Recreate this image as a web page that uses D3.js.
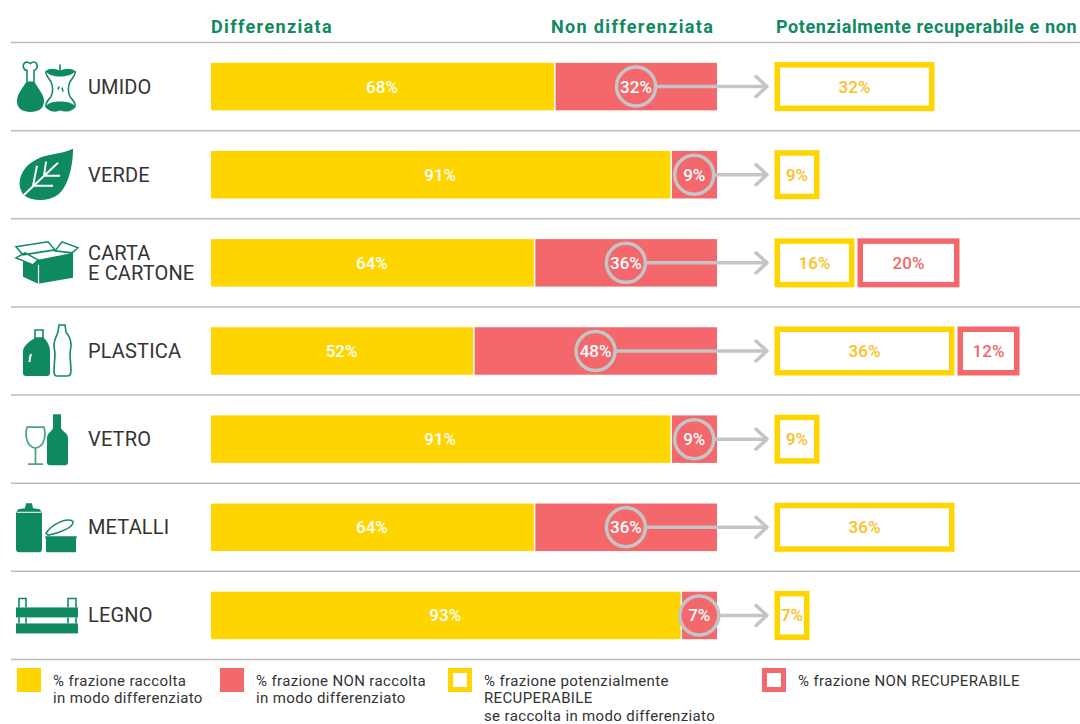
<!DOCTYPE html>
<html>
<head>
<meta charset="utf-8">
<script src="https://cdn.jsdelivr.net/npm/d3@7"></script>
<style>
    html, body { margin: 0; padding: 0; background: #fff; overflow: hidden; }
    svg { display: block; }
    text { font-family: Roboto, sans-serif; }
</style>
</head>
<body>
<div id="chart"></div>
<script>
// Chart values
const categories = ['UMIDO', 'VERDE', 'CARTA|E CARTONE', 'PLASTICA', 'VETRO', 'METALLI', 'LEGNO'];
const differenziata = [68, 91, 64, 52, 91, 64, 93];
const nonDifferenziata = [32, 9, 36, 48, 9, 36, 7];
const recuperabile = [32, 9, 16, 36, 9, 36, 7];
const nonRecuperabile = [0, 0, 20, 12, 0, 0, 0];
const headers = ['Differenziata', 'Non differenziata', 'Potenzialmente recuperabile e non'];
const legendLabels = [
    ['% frazione raccolta', 'in modo differenziato'],
    ['% frazione NON raccolta', 'in modo differenziato'],
    ['% frazione potenzialmente', 'RECUPERABILE', 'se raccolta in modo differenziato'],
    ['% frazione NON RECUPERABILE']
];

const width = 1080;
const height = 724;
const yellow = '#ffd500';
const red = '#f4686c';
const green = '#0f8a5f';
const grey = '#c3c5c7';

const svg = d3.select('#chart').append('svg')
    .attr('width', width)
    .attr('height', height);

// Scales
const xBar = d3.scaleLinear().domain([0, 100]).range([211, 717]);
const xBox = d3.scaleLinear().domain([0, 100]).range([774.5, 1274.5]);
const yRow = d3.scaleBand().domain(categories).range([42.5, 659.5]);
const rowCenter = c => yRow(c) + yRow.bandwidth() / 2;

// Separators
svg.append('g').selectAll('line')
    .data(d3.range(categories.length + 1))
    .enter()
    .append('line')
    .attr('x1', 11)
    .attr('x2', width)
    .attr('y1', i => 42.5 + i * yRow.step())
    .attr('y2', i => 42.5 + i * yRow.step())
    .attr('stroke', '#bcbcbc')
    .attr('stroke-width', 1.5);

// Column headers
svg.append('g').selectAll('text')
    .data(headers)
    .enter()
    .append('text')
    .attr('x', (d, i) => [211, 551, 776][i])
    .attr('y', 33)
    .attr('fill', green)
    .attr('font-size', 18)
    .attr('font-weight', 700)
    .attr('letter-spacing', (d, i) => [1.35, 1.35, 0.6][i])
    .text(d => d);

const rows = svg.append('g').selectAll('g')
    .data(categories)
    .enter()
    .append('g')
    .attr('transform', c => `translate(0,${rowCenter(c)})`);

// Category labels
rows.append('text')
    .attr('fill', '#333')
    .attr('font-size', 20)
    .attr('letter-spacing', 0.15)
    .selectAll('tspan')
    .data(c => c.split('|').map((t, i, all) => ({ t, dy: all.length > 1 ? (i === 0 ? -3 : 20.5) : 7 })))
    .enter()
    .append('tspan')
    .attr('x', 88)
    .attr('dy', d => d.dy)
    .text(d => d.t);

// Stacked bars
const barH = 47.5;
rows.append('rect')
    .attr('x', xBar(0))
    .attr('y', -barH / 2)
    .attr('width', (c, i) => xBar(differenziata[i]) - xBar(0) - 1)
    .attr('height', barH)
    .attr('fill', yellow);

rows.append('rect')
    .attr('x', (c, i) => xBar(differenziata[i]) + 0.5)
    .attr('y', -barH / 2)
    .attr('width', (c, i) => xBar(100) - xBar(differenziata[i]) - 0.5)
    .attr('height', barH)
    .attr('fill', red);

rows.append('text')
    .attr('x', (c, i) => xBar(differenziata[i] / 2) - 1)
    .attr('y', 6)
    .attr('text-anchor', 'middle')
    .attr('fill', '#fff')
    .attr('font-size', 17)
    .attr('font-weight', 500)
    .text((c, i) => differenziata[i] + '%');

// Arrow from the ring to the boxes
const ringX = i => xBar(100 - nonDifferenziata[i] / 2);
rows.append('line')
    .attr('x1', (c, i) => ringX(i))
    .attr('x2', 766)
    .attr('stroke', grey)
    .attr('stroke-width', 3.5);

rows.append('path')
    .attr('d', 'M756,-10 L767,0 L756,10')
    .attr('fill', 'none')
    .attr('stroke', grey)
    .attr('stroke-width', 3.5)
    .attr('stroke-linecap', 'round')
    .attr('stroke-linejoin', 'round');

rows.append('circle')
    .attr('cx', (c, i) => ringX(i))
    .attr('r', 19.5)
    .attr('fill', red)
    .attr('stroke', grey)
    .attr('stroke-width', 3.5);

rows.append('text')
    .attr('x', (c, i) => ringX(i))
    .attr('y', 6)
    .attr('text-anchor', 'middle')
    .attr('fill', '#fff')
    .attr('font-size', 17)
    .attr('font-weight', 500)
    .text((c, i) => nonDifferenziata[i] + '%');

// Outlined boxes
const boxStroke = 5.5;
const boxH = 49;

rows.append('rect')
    .attr('x', xBox(0) + boxStroke / 2)
    .attr('y', -boxH / 2 + boxStroke / 2)
    .attr('width', (c, i) => xBox(recuperabile[i]) - xBox(0) - boxStroke)
    .attr('height', boxH - boxStroke)
    .attr('fill', '#fff')
    .attr('stroke', yellow)
    .attr('stroke-width', boxStroke);

rows.append('text')
    .attr('x', (c, i) => xBox(recuperabile[i] / 2))
    .attr('y', 6)
    .attr('text-anchor', 'middle')
    .attr('fill', '#fdbe1e')
    .attr('font-size', 17)
    .attr('font-weight', 500)
    .text((c, i) => recuperabile[i] + '%');

const redRows = rows.filter((c, i) => nonRecuperabile[i] > 0);
const idx = c => categories.indexOf(c);

redRows.append('rect')
    .attr('x', c => xBox(recuperabile[idx(c)]) + 3 + boxStroke / 2)
    .attr('y', -boxH / 2 + boxStroke / 2)
    .attr('width', c => xBox(nonRecuperabile[idx(c)]) - xBox(0) + 2 - boxStroke)
    .attr('height', boxH - boxStroke)
    .attr('fill', '#fff')
    .attr('stroke', red)
    .attr('stroke-width', boxStroke);

redRows.append('text')
    .attr('x', c => xBox(recuperabile[idx(c)] + nonRecuperabile[idx(c)] / 2) + 4)
    .attr('y', 6)
    .attr('text-anchor', 'middle')
    .attr('fill', red)
    .attr('font-size', 17)
    .attr('font-weight', 500)
    .text(c => nonRecuperabile[idx(c)] + '%');

// Icons, x is page position and y is relative to the row centre
const icons = [
    // drumstick and apple core
    g => {
        g.append('path').attr('d', 'M27,-6 C22,3 17,7 17,15 C17,22 23,25.5 30.5,25.5 C38,25.5 44,22 44,15 C44,7 38,3 34,-6 Z').attr('fill', green);
        g.append('path').attr('d', 'M27,-5 L27,-16 C23,-17 22,-22 25,-24 C27,-25 29,-24 30.5,-23 C32,-25 35,-25 36.5,-23 C38,-20 37,-17 34,-16 L34,-5').attr('fill', '#fff').attr('stroke', green).attr('stroke-width', 1.6);
        g.append('path').attr('d', 'M46,-15 C50,-18 56,-17 60,-15 C64,-17 70,-18 75,-15 C76,-12 72,-8 70,-5 C68,0 68,6 70,10 C72,13 76,16 75,20 C70,25 65,25 60,23 C56,25 50,25 46,20 C45,16 49,13 51,10 C53,6 53,0 51,-5 C49,-8 45,-12 46,-15 Z').attr('fill', '#fff').attr('stroke', green).attr('stroke-width', 1.6);
        g.append('path').attr('d', 'M46,-15 C50,-18 56,-17 60,-15 C64,-17 70,-18 75,-15 C73,-12 66,-10 60,-10 C54,-10 48,-12 46,-15 Z M46,20 C48,16 54,15 60,15 C66,15 73,16 75,20 C70,25 65,25 60,23 C56,25 50,25 46,20 Z').attr('fill', green);
        g.append('path').attr('d', 'M60,-15 L60,-22').attr('stroke', green).attr('stroke-width', 1.6);
        g.append('path').attr('d', 'M58,3 L59,0 M62,1 L63,5').attr('stroke', green).attr('stroke-width', 1.6);
    },
    // leaf
    g => {
        g.append('path').attr('d', 'M73,-26 C60,-20 46,-21 36,-15 C24,-9 18,2 20,13 L23,20 C32,27 48,27 58,20 C68,12 73,-8 73,-26 Z').attr('fill', green);
        g.append('path').attr('d', 'M22,22 L58,-12 M33,11 L37,-9 M33,11 L53,11 M44,1 L46,-13 M44,1 L60,1').attr('fill', 'none').attr('stroke', '#fff').attr('stroke-width', 1.9);
    },
    // open box
    g => {
        g.append('path').attr('d', 'M23,-2 L38,-3 L73,-10 L73,15 L38,21 L23,14 Z').attr('fill', green);
        g.append('path').attr('d', 'M38.5,2 L38.5,21').attr('stroke', '#fff').attr('stroke-width', 1.2);
        g.append('path').attr('d', 'M16,-16 L48,-21 L55,-13 L23,-8 Z M55,-12 L62,-21 L78,-15 L72,-10 Z M16,-5 L25,-10 L38,-3 L33,2 Z').attr('fill', '#fff').attr('stroke', green).attr('stroke-width', 1.5);
    },
    // jug and bottle
    g => {
        g.append('path').attr('d', 'M35,-21 L43,-21 L43,-13 L35,-13 Z').attr('fill', '#fff').attr('stroke', green).attr('stroke-width', 1.6);
        g.append('path').attr('d', 'M35,-13 L44,-13 C47,-10 50,-5 50,0 L50,22 C50,24 49,25 47,25 L26,25 C24,25 23,24 23,22 L23,0 C23,-5 30,-10 35,-13 Z').attr('fill', green);
        g.append('path').attr('d', 'M31,3 C30,6 29.5,8 29.5,11').attr('fill', 'none').attr('stroke', '#fff').attr('stroke-width', 2);
        g.append('path').attr('d', 'M59,-26 L65,-26 L66,-19 C70,-14 71,-10 71,-6 C71,-2 70,0 70,3 C70,8 71,14 71,20 C71,24 69,25 67,25 L57,25 C55,25 54,24 54,20 C54,14 55,8 55,3 C55,0 54,-2 54,-6 C54,-10 56,-14 58,-19 Z').attr('fill', '#fff').attr('stroke', green).attr('stroke-width', 1.6);
    },
    // wine glass and bottle
    g => {
        g.append('path').attr('d', 'M27,-12 L44,-12 C46,-4 45,7 35.5,9 C26,7 25,-4 27,-12 Z M35.5,9 L35.5,24 M28,25 L43,25').attr('fill', '#fff').attr('stroke', '#4aa583').attr('stroke-width', 1.8);
        g.append('path').attr('d', 'M53,-25 L61,-25 L61,-12 C61,-8 68,-7 68,-1 L68,23 C68,25 67,26 65,26 L50,26 C48,26 47,25 47,23 L47,-1 C47,-7 53,-8 53,-12 Z').attr('fill', green);
    },
    // can and tin
    g => {
        g.append('path').attr('d', 'M26,-24 L32,-24 L33,-19 L40,-18 L42,-14 L42,21 C42,24 41,25 39,25 L19,25 C17,25 16,24 16,21 L16,-14 L18,-18 L25,-19 Z').attr('fill', green);
        g.append('path').attr('d', 'M17,-15 L41,-15').attr('stroke', '#fff').attr('stroke-width', 1);
        g.append('path').attr('d', 'M46,6 C52,-3 66,-10 73,-6 C74,0 60,5 48,8 Z').attr('fill', '#fff').attr('stroke', green).attr('stroke-width', 1.5);
        g.append('path').attr('d', 'M45,9 L77,9 L76,12 L76,24 C76,25 75,25 74,25 L48,25 C47,25 46,25 46,24 L46,12 Z').attr('fill', green);
    },
    // crate
    g => {
        g.append('path').attr('d', 'M19,-8 L19,-17 L26,-17 L26,-8 M68,-8 L68,-17 L76,-17 L76,-8').attr('fill', '#fff').attr('stroke', green).attr('stroke-width', 1.6);
        g.append('rect').attr('x', 16).attr('y', -8).attr('width', 62).attr('height', 10).attr('fill', green);
        g.append('rect').attr('x', 16).attr('y', 8).attr('width', 62).attr('height', 10).attr('fill', green);
        g.append('path').attr('d', 'M19,2 L19,8 M26,2 L26,8 M68,2 L68,8 M76,2 L76,8').attr('stroke', green).attr('stroke-width', 1.6);
    }
];
rows.each(function (c, i) {
    icons[i](d3.select(this).append('g'));
});

// Legend
const legendX = [17, 220, 448, 762];
const legendTextX = [53, 256, 484, 798];
const legend = svg.append('g').selectAll('g')
    .data(legendLabels)
    .enter()
    .append('g');

legend.append('rect')
    .attr('x', (d, i) => legendX[i] + (i > 1 ? 2.5 : 0))
    .attr('y', (d, i) => 668 + (i > 1 ? 2.5 : 0))
    .attr('width', (d, i) => i > 1 ? 19 : 24)
    .attr('height', (d, i) => i > 1 ? 19 : 24)
    .attr('fill', (d, i) => i === 0 ? yellow : i === 1 ? red : '#fff')
    .attr('stroke', (d, i) => i === 2 ? yellow : i === 3 ? red : 'none')
    .attr('stroke-width', 5);

legend.each(function (lines, i) {
    d3.select(this).selectAll('text')
        .data(lines)
        .enter()
        .append('text')
        .attr('x', legendTextX[i])
        .attr('y', (d, j) => 685.5 + j * 17.5)
        .attr('fill', '#333')
        .attr('font-size', 15)
        .attr('letter-spacing', 0.36)
        .text(d => d);
});
</script>
</body>
</html>
